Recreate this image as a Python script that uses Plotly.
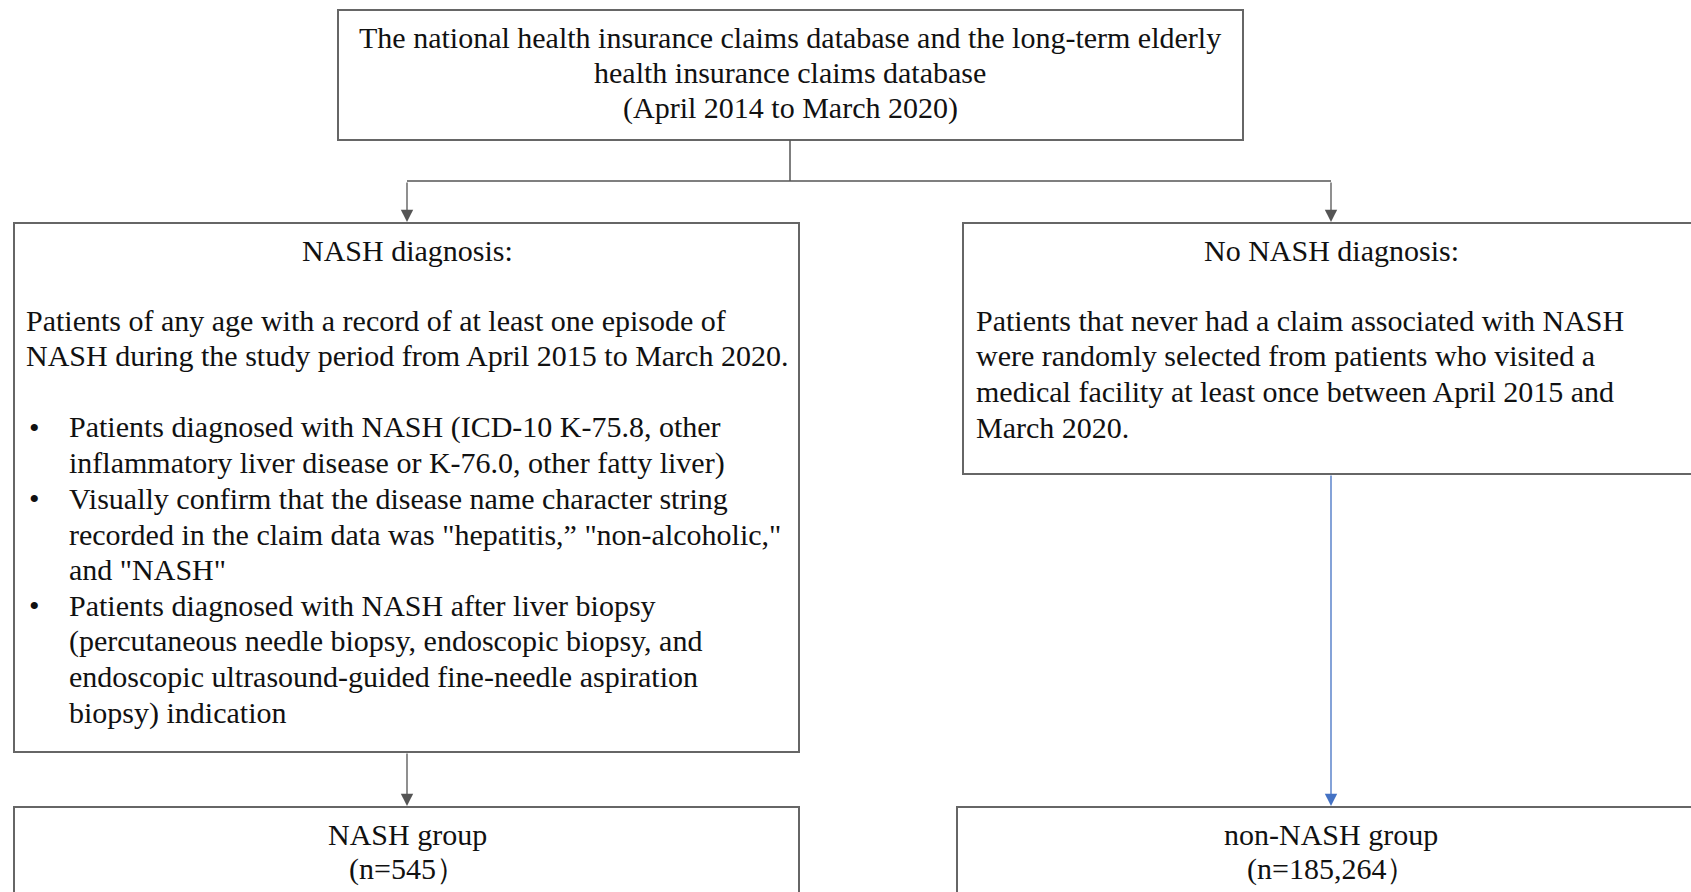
import plotly.graph_objects as go

# ---- content ----
top_lines = [
    "The national health insurance claims database and the long-term elderly",
    "health insurance claims database",
    "(April 2014 to March 2020)",
]
left_title = "NASH diagnosis:"
left_para = [
    "Patients of any age with a record of at least one episode of",
    "NASH during the study period from April 2015 to March 2020.",
]
left_bullets = [
    ["Patients diagnosed with NASH (ICD-10 K-75.8, other",
     "inflammatory liver disease or K-76.0, other fatty liver)"],
    ["Visually confirm that the disease name character string",
     "recorded in the claim data was \"hepatitis,\u201d \"non-alcoholic,\"",
     "and \"NASH\""],
    ["Patients diagnosed with NASH after liver biopsy",
     "(percutaneous needle biopsy, endoscopic biopsy, and",
     "endoscopic ultrasound-guided fine-needle aspiration",
     "biopsy) indication"],
]
right_title = "No NASH diagnosis:"
right_para = [
    "Patients that never had a claim associated with NASH",
    "were randomly selected from patients who visited a",
    "medical facility at least once between April 2015 and",
    "March 2020.",
]
group_names = ["NASH group", "non-NASH group"]
group_n = ["(n=545\uFF09", "(n=185,264\uFF09"]

W, H = 1691, 892
FONT = "Liberation Serif"
FS = 30
TXT = "#111111"
BOX = "#666666"
LINE = "#555555"
BLUE = "#4472C4"

fig = go.Figure()
shapes = []
ann = []

def box(x0, y0, x1, y1):
    shapes.append(dict(type="rect", x0=x0, y0=y0, x1=x1, y1=y1,
                       xref="x", yref="y", line=dict(color=BOX, width=2),
                       fillcolor="rgba(0,0,0,0)", layer="above"))

def seg(x0, y0, x1, y1, color=LINE):
    shapes.append(dict(type="line", x0=x0, y0=y0, x1=x1, y1=y1,
                       xref="x", yref="y", line=dict(color=color, width=1.5)))

def arrow(x, y0, y1, color=LINE):
    ann.append(dict(x=x, y=y1, ax=x, ay=y0, xref="x", yref="y",
                    axref="x", ayref="y", text="", showarrow=True,
                    arrowhead=2, arrowsize=1.9, arrowwidth=1.3,
                    arrowcolor=color))

def txt(x, y, s, anchor="center"):
    ann.append(dict(x=x, y=y, xref="x", yref="y", text=s, showarrow=False,
                    xanchor=anchor, yanchor="middle", borderpad=0, borderwidth=0,
                    font=dict(family=FONT, size=FS, color=TXT)))

# boxes
box(338, 10, 1243, 140)
box(14, 223, 799, 752)
box(963, 223, 1700, 474)
box(14, 807, 799, 910)
box(957, 807, 1700, 910)

# connectors
seg(790, 140, 790, 181)
seg(407, 181, 1331, 181)
arrow(407, 181, 222)
arrow(1331, 181, 222)
arrow(407, 752, 806)
arrow(1331, 474, 806, BLUE)

# top text
for i, s in enumerate(top_lines):
    txt(790, 37 + 35.5 * i, s)

# left box
LS = 35.7
txt(407, 250, left_title)
for i, s in enumerate(left_para):
    txt(26, 320 + LS * i, s, "left")
y = 427
for b in left_bullets:
    txt(29, y, "\u2022", "left")
    for s in b:
        txt(69, y, s, "left")
        y += LS

# right box
txt(1331, 250, right_title)
for i, s in enumerate(right_para):
    txt(976, 320 + LS * i, s, "left")

# bottom groups
txt(407, 834, group_names[0])
txt(407, 869, group_n[0])
txt(1331, 834, group_names[1])
txt(1331, 869, group_n[1])

fig.update_layout(
    width=W, height=H, margin=dict(l=0, r=0, t=0, b=0),
    paper_bgcolor="white", plot_bgcolor="white",
    xaxis=dict(range=[0, W], visible=False, fixedrange=True),
    yaxis=dict(range=[H, 0], visible=False, fixedrange=True),
    shapes=shapes, annotations=ann, showlegend=False,
)
fig.write_html("out.html", post_script="document.body.style.margin='0';",
               config={"displayModeBar": False})
